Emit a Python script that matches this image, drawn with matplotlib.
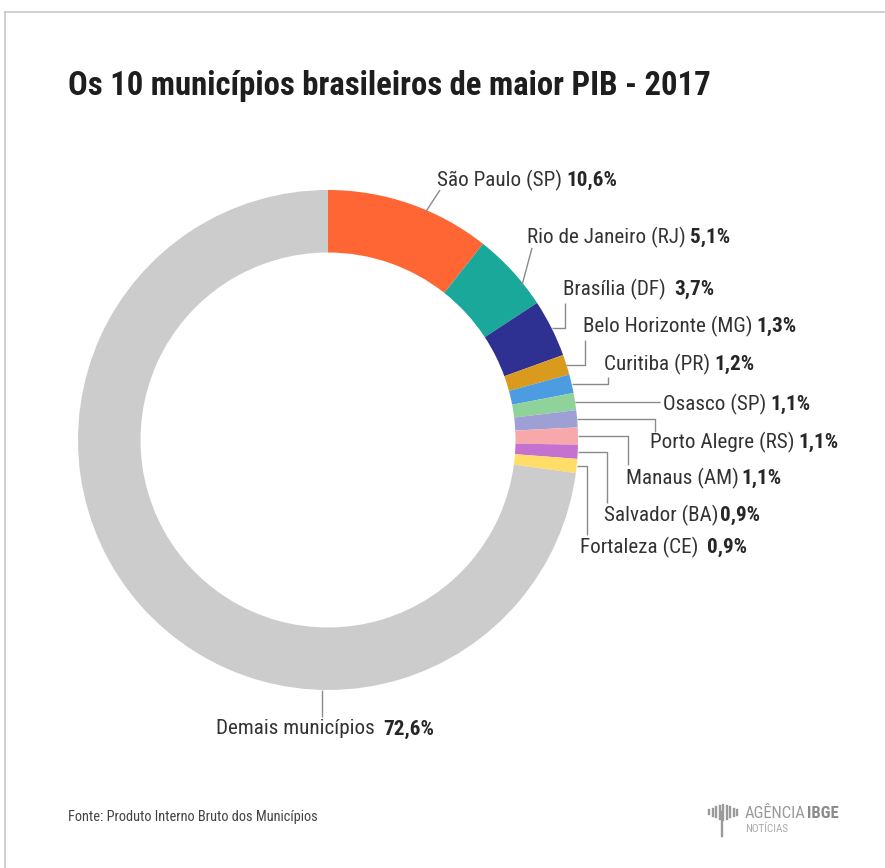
import numpy as np
import matplotlib
matplotlib.use('Agg')
import matplotlib.pyplot as plt
from matplotlib import font_manager as fm

W, H = 885, 868

cities = ['São Paulo (SP)', 'Rio de Janeiro (RJ)', 'Brasília (DF)', 'Belo Horizonte (MG)',
          'Curitiba (PR)', 'Osasco (SP)', 'Porto Alegre (RS)', 'Manaus (AM)',
          'Salvador (BA)', 'Fortaleza (CE)', 'Demais municípios']
shares = [10.6, 5.1, 3.7, 1.3, 1.2, 1.1, 1.1, 1.1, 0.9, 0.9, 72.6]
colors = ['#FF6633', '#1AA89A', '#2E3192', '#D99A1E', '#4B9CE0', '#90D39A',
          '#9D9FD5', '#F7A8AA', '#C471CF', '#FFDD66', '#CCCCCC']

# label placement in pixels (left x, center y), gap before the value, leader path
label_pos = [(437, 180), (527, 237), (563, 289), (583, 326), (604, 364), (663, 404),
             (650, 442), (626, 478), (604, 515), (580, 547), (216, 729)]
value_gap = [3, 3, 6, 3, 3, 3, 3, 2, 1, 6, 6]
leader = [('diag', 440, 190), ('diag', 532, 248), ('elbow', 565, 303), ('elbow', 585, 340),
          ('elbow', 608, 377), ('flat', 660, None), ('elbow', 655, 432), ('elbow', 628, 465),
          ('elbow', 607, 503), ('elbow', 587, 535), ('down', None, 717)]

installed = {f.name for f in fm.fontManager.ttflist}
for fam in ['Roboto Condensed', 'Liberation Sans Narrow', 'Archivo Narrow',
            'PT Sans Narrow', 'Open Sans Condensed', 'Roboto']:
    if fam in installed:
        break
cond = [fam, 'DejaVu Sans']
txt = '#333333'
fs = 15.2

fig = plt.figure(figsize=(W / 100, H / 100), dpi=100)
ax = fig.add_axes([0, 0, 1, 1])
ax.set_xlim(0, W)
ax.set_ylim(0, H)
ax.set_aspect('equal')
ax.axis('off')

cx, cy, R = 328, 440, 250
wedges, _ = ax.pie(shares, colors=colors, startangle=90, counterclock=False,
                   center=(cx, H - cy), radius=R,
                   wedgeprops=dict(width=R * 0.25, linewidth=0))
ax.set_xlim(0, W)
ax.set_ylim(0, H)

def px(x, y):
    return x, H - y

for w, name, val, (lx, ly), gap, (kind, ex, ey) in zip(wedges, cities, shares, label_pos,
                                                        value_gap, leader):
    ang = np.deg2rad((w.theta1 + w.theta2) / 2)
    sx = cx + R * np.cos(ang)
    sy = cy - R * np.sin(ang)
    if kind == 'diag':
        sx = cx + 0.99 * R * np.cos(ang - np.deg2rad(4))
        sy = cy - 0.99 * R * np.sin(ang - np.deg2rad(4))
        xs, ys = [sx, ex], [sy, ey]
    elif kind == 'elbow':
        xs, ys = [sx, ex, ex], [sy, sy, ey]
    elif kind == 'flat':
        xs, ys = [sx, ex], [sy, sy]
    else:
        xs, ys = [lx + 106, lx + 106], [cy + R, ey]
    ax.plot(xs, [H - y for y in ys], color='#8a8a8a', lw=1, solid_capstyle='butt')

    t = ax.text(*px(lx, ly), name, ha='left', va='center', fontsize=fs,
                color=txt, family=cond)
    ax.annotate(f'{val:.1f}%'.replace('.', ','), xy=(1, 0.5), xycoords=t,
                xytext=(gap, 0), textcoords='offset points', ha='left', va='center',
                fontsize=fs, fontweight='bold', color='#262626', family=cond)

# title, source, frame
fig.text(68 / W, 1 - 86 / H, 'Os 10 municípios brasileiros de maior PIB - 2017',
         ha='left', va='center', fontsize=23.6, fontweight='bold', color='#1e1e1e', family=cond)
fig.text(68 / W, 1 - 817 / H, 'Fonte: Produto Interno Bruto dos Municípios',
         ha='left', va='center', fontsize=10.4, color='#444444', family=cond)

ax.plot([5, W], [H - 12, H - 12], color='#c8c8c8', lw=1.2)
ax.plot([5, 5], [H - 12, 0], color='#c8c8c8', lw=1.2)

# logo
bar_h = [4, 7, 10, 13, 15, 13, 10, 7, 5]
for i, h in enumerate(bar_h):
    x = 709 + i * 3.5
    ax.plot([x, x], [H - 812 - h / 2, H - 812 + h / 2], color='#9a9a9a', lw=1.7)
ax.plot([722, 722], [H - 812, H - 836], color='#9a9a9a', lw=1.7)
t = ax.text(*px(745, 813), 'AGÊNCIA', ha='left', va='center', fontsize=12,
            color='#9a9a9a', family=cond)
ax.annotate('IBGE', xy=(1, 0.5), xycoords=t, xytext=(1, 0), textcoords='offset points',
            ha='left', va='center', fontsize=12, fontweight='bold', color='#8a8a8a', family=cond)
ax.text(*px(745, 829), 'NOTÍCIAS', ha='left', va='center', fontsize=8,
        color='#aaaaaa', family=cond)

fig.savefig('out.png', dpi=100, facecolor='white')
